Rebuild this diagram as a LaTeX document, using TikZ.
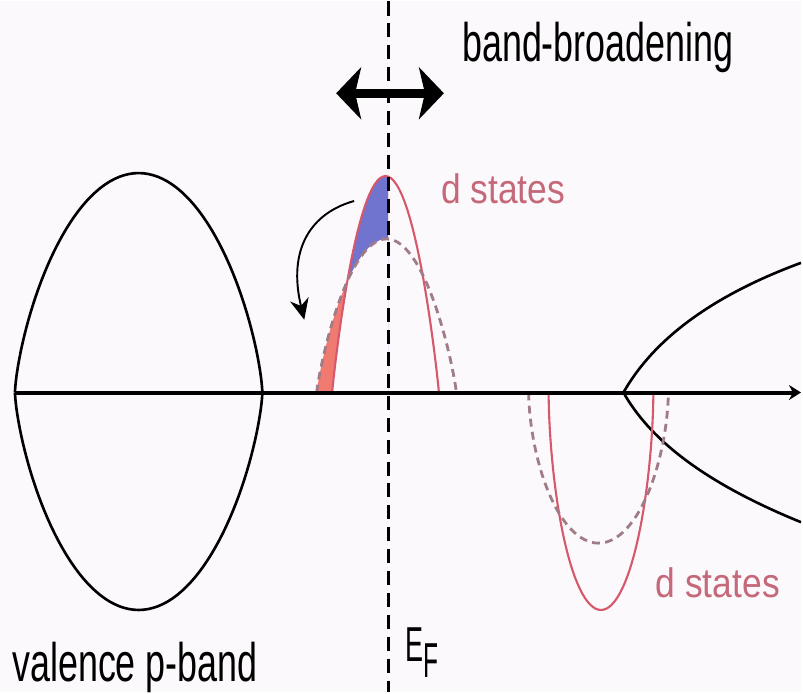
\documentclass[tikz,border=0pt]{standalone}
\usepackage{fontspec}
\setmainfont{Liberation Sans}
\usepackage{xcolor}
\usepackage{tikz}
\usetikzlibrary{arrows.meta}

\definecolor{paper}{RGB}{252,249,252}
\definecolor{dline}{RGB}{214,88,108}
\definecolor{dtext}{RGB}{196,104,122}
\definecolor{dashcol}{RGB}{160,124,136}
\definecolor{redfill}{RGB}{240,122,112}
\definecolor{bluefill}{RGB}{112,116,206}

\newcommand{\upsolid}{plot[domain=180:0,samples=61] ({386.5+53.5*cos(\x)},{392-217*pow(max(sin(\x),0.001),1.85)})}
\newcommand{\updashed}{plot[domain=180:0,samples=61] ({387.5+70*cos(\x)},{392-154*pow(max(sin(\x),0.001),1.7)})}

\begin{document}
\begin{tikzpicture}[x=0.02cm,y=-0.02cm,
  pband/.style={line width=1.5pt,black},
  dsolid/.style={line width=1.2pt,dline},
  ddash/.style={line width=1.6pt,dashcol,dash pattern=on 4.5pt off 3pt},
  efline/.style={line width=1.7pt,black,dash pattern=on 8pt off 4.5pt},
  lbl/.style={inner sep=0pt,anchor=base west}]
  \fill[paper] (0,0) rectangle (803,692);
  \begin{scope}
    \clip (300,150) rectangle (389,392);
    \fill[redfill,even odd rule] \updashed -- cycle \upsolid -- cycle;
  \end{scope}
  \begin{scope}
    \clip (300,150) rectangle (389,392);
    \clip \upsolid -- cycle;
    \fill[bluefill,even odd rule] (300,150) rectangle (389,392) \updashed -- cycle;
  \end{scope}
  \draw[pband] plot[domain=180:0,samples=81] ({139+124*cos(\x)},{392-220*pow(max(sin(\x),0.001),1.4)});
  \draw[pband] plot[domain=180:0,samples=81] ({139+124*cos(\x)},{392+218*pow(max(sin(\x),0.001),1.4)});
  \coordinate (cbot) at (625,392);
  \coordinate (cup) at (803,262);
  \coordinate (cdown) at (803,522);
  \draw[pband] (cbot) .. controls (650,348) and (700,300) .. (cup);
  \draw[pband] (cbot) .. controls (650,436) and (700,480) .. (cdown);
  \draw[dsolid] \upsolid;
  \draw[ddash] \updashed;
  \draw[dsolid] plot[domain=180:0,samples=61] ({602.5+52.5*cos(\x)},{392+218*pow(max(sin(\x),0.001),1.15)});
  \draw[ddash] plot[domain=180:0,samples=61] ({600+70*cos(\x)},{392+151*pow(max(sin(\x),0.001),1.15)});
  \coordinate (efTop) at (389,0);
  \coordinate (efBot) at (389,692);
  \draw[efline] (efTop) -- (efBot);
  \coordinate (axL) at (15,392);
  \coordinate (axR) at (803,392);
  \draw[line width=2.3pt,-{Stealth[length=0.24cm,width=0.3cm]}] (axL) -- (axR);
  \coordinate (bbL) at (337,92);
  \coordinate (bbR) at (445,92);
  \draw[line width=5pt,{Stealth[length=0.5cm,width=1.04cm,inset=0.12cm]}-{Stealth[length=0.5cm,width=1.04cm,inset=0.12cm]}] (bbL) -- (bbR);
  \coordinate (holeS) at (355,200);
  \coordinate (holeE) at (305,319);
  \draw[line width=1.1pt,-{Stealth[length=0.42cm,width=0.38cm]}] (holeS) .. controls (312,212) and (288,248) .. (holeE);
  \node[lbl,font=\fontsize{31}{31}\selectfont] (bbtext) at (463,60) {\scalebox{0.66}[1]{band-broadening}};
  \node[lbl,font=\fontsize{31}{31}\selectfont] (valence) at (12,682) {\scalebox{0.66}[1]{valence p-band}};
  \node[lbl,dtext,font=\fontsize{23.5}{23.5}\selectfont] (dup) at (442,203) {\scalebox{0.86}[1]{d states}};
  \node[lbl,dtext,font=\fontsize{23.5}{23.5}\selectfont] (ddown) at (657,597) {\scalebox{0.86}[1]{d states}};
  \node[lbl,font=\fontsize{28}{28}\selectfont] (ef) at (406,662) {\scalebox{0.55}[1]{E}\raisebox{-9pt}{\scalebox{0.5}[1]{F}}};
\end{tikzpicture}
\end{document}
